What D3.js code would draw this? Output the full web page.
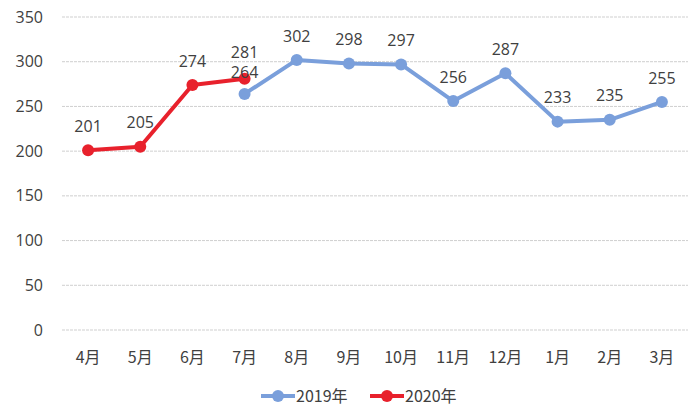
<!DOCTYPE html>
<html>
<head>
<meta charset="utf-8">
<script src="https://cdn.jsdelivr.net/npm/d3@7"></script>
<style>
body { margin: 0; background: #fff; }
text { font-family: "Noto Sans CJK SC", "Noto Sans", sans-serif; fill: #404040; }
.num { font-family: "Open Sans", "Noto Sans", sans-serif; }
</style>
</head>
<body>
<div id="chart"></div>
<script>
const months = ["4月", "5月", "6月", "7月", "8月", "9月", "10月", "11月", "12月", "1月", "2月", "3月"];
const yTicks = [0, 50, 100, 150, 200, 250, 300, 350];
// 2019年: 7月 - 3月
const months2019 = ["7月", "8月", "9月", "10月", "11月", "12月", "1月", "2月", "3月"];
const values2019 = [264, 302, 298, 297, 256, 287, 233, 235, 255];
// 2020年: 4月 - 7月
const months2020 = ["4月", "5月", "6月", "7月"];
const values2020 = [201, 205, 274, 281];

const width = 699;
const height = 409;

const svg = d3.select("#chart")
    .append("svg")
    .attr("width", width)
    .attr("height", height);

const x = d3.scaleBand().domain(months).range([62, 688]);
const y = d3.scaleLinear().domain([0, 350]).range([330, 17]);
const cx = m => x(m) + x.bandwidth() / 2;

// gridlines
svg.selectAll("line.grid")
    .data(yTicks)
    .enter()
    .append("line")
    .attr("class", "grid")
    .attr("x1", 62)
    .attr("x2", 688)
    .attr("y1", d => y(d))
    .attr("y2", d => y(d))
    .attr("stroke", "#cfcfcf")
    .attr("stroke-width", 1)
    .attr("stroke-dasharray", "3,1");

// y labels
svg.selectAll("text.ylab")
    .data(yTicks)
    .enter()
    .append("text")
    .attr("class", "ylab num")
    .attr("x", 43)
    .attr("y", d => y(d))
    .attr("dy", "0.35em")
    .attr("text-anchor", "end")
    .style("font-size", "16px")
    .text(d => d);

// x labels
svg.selectAll("text.xlab")
    .data(months)
    .enter()
    .append("text")
    .attr("class", "xlab")
    .attr("x", d => cx(d))
    .attr("y", 357)
    .attr("dy", "0.35em")
    .attr("text-anchor", "middle")
    .style("font-size", "16px")
    .text(d => d);

const series = [
    { name: "2019年", color: "#7a9fdb", data: months2019.map((m, i) => ({ m: m, v: values2019[i] })) },
    { name: "2020年", color: "#e8212c", data: months2020.map((m, i) => ({ m: m, v: values2020[i] })) }
];

const line = d3.line()
    .x(d => cx(d.m))
    .y(d => y(d.v));

// label positions, spread apart when two share a month
const labels = [];
series.forEach(s => s.data.forEach(d => labels.push({ m: d.m, v: d.v, ly: y(d.v) - 24 })));
d3.groups(labels, d => d.m).forEach(([m, g]) => {
    if (g.length < 2) return;
    g.sort((a, b) => a.ly - b.ly);
    const gap = g[1].ly - g[0].ly;
    if (gap < 20) {
        const push = (20 - gap) / 2;
        g[0].ly -= push;
        g[1].ly += push;
    }
});

series.forEach(s => {
    svg.append("path")
        .datum(s.data)
        .attr("d", line)
        .attr("fill", "none")
        .attr("stroke", s.color)
        .attr("stroke-width", 4)
        .attr("stroke-linejoin", "round");

    svg.selectAll(null)
        .data(s.data)
        .enter()
        .append("circle")
        .attr("cx", d => cx(d.m))
        .attr("cy", d => y(d.v))
        .attr("r", 6)
        .attr("fill", s.color);
});

svg.selectAll("text.lab")
    .data(labels)
    .enter()
    .append("text")
    .attr("class", "lab num")
    .attr("x", d => cx(d.m))
    .attr("y", d => d.ly)
    .attr("dy", "0.35em")
    .attr("text-anchor", "middle")
    .style("font-size", "16px")
    .text(d => d.v);

// legend
const legend = svg.append("g").attr("transform", "translate(0,396)");
const legendX = [261, 370];
series.forEach((s, i) => {
    const lx = legendX[i];
    legend.append("line")
        .attr("x1", lx).attr("x2", lx + 34)
        .attr("y1", 0).attr("y2", 0)
        .attr("stroke", s.color)
        .attr("stroke-width", 4);
    legend.append("circle")
        .attr("cx", lx + 17).attr("cy", 0)
        .attr("r", 6)
        .attr("fill", s.color);
    legend.append("text")
        .attr("x", lx + 35)
        .attr("y", 0)
        .attr("dy", "0.35em")
        .style("font-size", "16px")
        .text(s.name);
});
</script>
</body>
</html>
